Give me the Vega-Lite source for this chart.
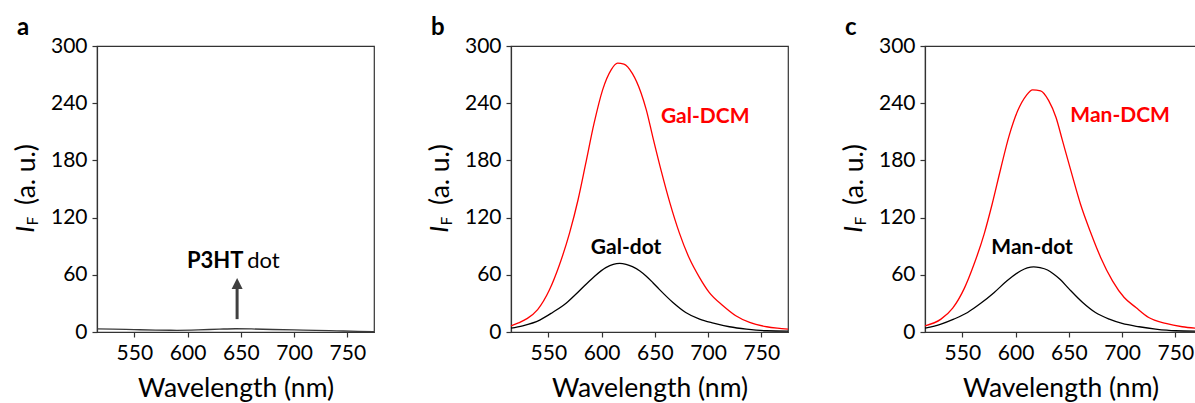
{
  "$schema": "https://vega.github.io/schema/vega-lite/v6.json",
  "bounds": "flush",
  "spacing": 137,
  "padding": {"left": 12, "top": 15, "right": 0, "bottom": 0},
  "background": "white",
  "datasets": {
    "spectra": [
      {"p":"a","s":"P3HT dot","wl":515,"v":3.2},{"p":"a","s":"P3HT dot","wl":530,"v":3.0},{"p":"a","s":"P3HT dot","wl":550,"v":2.5},{"p":"a","s":"P3HT dot","wl":570,"v":2.0},{"p":"a","s":"P3HT dot","wl":590,"v":1.8},{"p":"a","s":"P3HT dot","wl":610,"v":2.2},{"p":"a","s":"P3HT dot","wl":630,"v":3.0},{"p":"a","s":"P3HT dot","wl":645,"v":3.4},{"p":"a","s":"P3HT dot","wl":660,"v":3.2},{"p":"a","s":"P3HT dot","wl":680,"v":2.6},{"p":"a","s":"P3HT dot","wl":700,"v":2.2},{"p":"a","s":"P3HT dot","wl":720,"v":1.8},{"p":"a","s":"P3HT dot","wl":740,"v":1.2},{"p":"a","s":"P3HT dot","wl":760,"v":0.7},{"p":"a","s":"P3HT dot","wl":775,"v":0.4},

      {"p":"b","s":"Gal-DCM","wl":515,"v":6.5},{"p":"b","s":"Gal-DCM","wl":522,"v":9.5},{"p":"b","s":"Gal-DCM","wl":530,"v":14},{"p":"b","s":"Gal-DCM","wl":540,"v":23.5},{"p":"b","s":"Gal-DCM","wl":551,"v":44},{"p":"b","s":"Gal-DCM","wl":560,"v":69},{"p":"b","s":"Gal-DCM","wl":570,"v":104},{"p":"b","s":"Gal-DCM","wl":578,"v":139},{"p":"b","s":"Gal-DCM","wl":585,"v":176},{"p":"b","s":"Gal-DCM","wl":593,"v":219},{"p":"b","s":"Gal-DCM","wl":601,"v":254},{"p":"b","s":"Gal-DCM","wl":609,"v":275},{"p":"b","s":"Gal-DCM","wl":615,"v":282},{"p":"b","s":"Gal-DCM","wl":621,"v":281},{"p":"b","s":"Gal-DCM","wl":629,"v":271},{"p":"b","s":"Gal-DCM","wl":637,"v":251},{"p":"b","s":"Gal-DCM","wl":642,"v":233},{"p":"b","s":"Gal-DCM","wl":648,"v":205},{"p":"b","s":"Gal-DCM","wl":656,"v":169},{"p":"b","s":"Gal-DCM","wl":664,"v":136},{"p":"b","s":"Gal-DCM","wl":673,"v":104},{"p":"b","s":"Gal-DCM","wl":682.5,"v":77},{"p":"b","s":"Gal-DCM","wl":692,"v":57},{"p":"b","s":"Gal-DCM","wl":701,"v":41.5},{"p":"b","s":"Gal-DCM","wl":714,"v":27.5},{"p":"b","s":"Gal-DCM","wl":726,"v":17},{"p":"b","s":"Gal-DCM","wl":739,"v":10},{"p":"b","s":"Gal-DCM","wl":755,"v":5.5},{"p":"b","s":"Gal-DCM","wl":765,"v":4},{"p":"b","s":"Gal-DCM","wl":775,"v":3},

      {"p":"b","s":"Gal-dot","wl":515,"v":4},{"p":"b","s":"Gal-dot","wl":526,"v":6.5},{"p":"b","s":"Gal-dot","wl":542,"v":12.5},{"p":"b","s":"Gal-dot","wl":554,"v":20.5},{"p":"b","s":"Gal-dot","wl":567,"v":30.5},{"p":"b","s":"Gal-dot","wl":579,"v":43},{"p":"b","s":"Gal-dot","wl":592,"v":57},{"p":"b","s":"Gal-dot","wl":604,"v":67.5},{"p":"b","s":"Gal-dot","wl":611,"v":71},{"p":"b","s":"Gal-dot","wl":617,"v":72},{"p":"b","s":"Gal-dot","wl":623,"v":71},{"p":"b","s":"Gal-dot","wl":629,"v":68.5},{"p":"b","s":"Gal-dot","wl":636,"v":64},{"p":"b","s":"Gal-dot","wl":642,"v":58.5},{"p":"b","s":"Gal-dot","wl":648,"v":52},{"p":"b","s":"Gal-dot","wl":654,"v":45},{"p":"b","s":"Gal-dot","wl":667,"v":31},{"p":"b","s":"Gal-dot","wl":679,"v":20.5},{"p":"b","s":"Gal-dot","wl":692,"v":13.5},{"p":"b","s":"Gal-dot","wl":705,"v":9.3},{"p":"b","s":"Gal-dot","wl":720,"v":5.5},{"p":"b","s":"Gal-dot","wl":736,"v":3},{"p":"b","s":"Gal-dot","wl":755,"v":1.3},{"p":"b","s":"Gal-dot","wl":775,"v":1},

      {"p":"c","s":"Man-DCM","wl":515,"v":6.5},{"p":"c","s":"Man-DCM","wl":530,"v":13.5},{"p":"c","s":"Man-DCM","wl":541,"v":25},{"p":"c","s":"Man-DCM","wl":552,"v":46},{"p":"c","s":"Man-DCM","wl":561,"v":71},{"p":"c","s":"Man-DCM","wl":570.5,"v":102.7},{"p":"c","s":"Man-DCM","wl":578,"v":134},{"p":"c","s":"Man-DCM","wl":586,"v":171},{"p":"c","s":"Man-DCM","wl":594,"v":206},{"p":"c","s":"Man-DCM","wl":602,"v":232},{"p":"c","s":"Man-DCM","wl":610,"v":248},{"p":"c","s":"Man-DCM","wl":616,"v":254},{"p":"c","s":"Man-DCM","wl":623.5,"v":253},{"p":"c","s":"Man-DCM","wl":631,"v":243},{"p":"c","s":"Man-DCM","wl":638,"v":225},{"p":"c","s":"Man-DCM","wl":644,"v":201},{"p":"c","s":"Man-DCM","wl":652,"v":169},{"p":"c","s":"Man-DCM","wl":661,"v":134},{"p":"c","s":"Man-DCM","wl":670.5,"v":104.4},{"p":"c","s":"Man-DCM","wl":680,"v":78},{"p":"c","s":"Man-DCM","wl":691,"v":53.7},{"p":"c","s":"Man-DCM","wl":702,"v":36.2},{"p":"c","s":"Man-DCM","wl":713,"v":25.7},{"p":"c","s":"Man-DCM","wl":725,"v":15.2},{"p":"c","s":"Man-DCM","wl":741,"v":9},{"p":"c","s":"Man-DCM","wl":756.5,"v":5.5},{"p":"c","s":"Man-DCM","wl":769,"v":4},

      {"p":"c","s":"Man-dot","wl":515,"v":4},{"p":"c","s":"Man-dot","wl":530,"v":8.3},{"p":"c","s":"Man-dot","wl":542,"v":13.5},{"p":"c","s":"Man-dot","wl":555,"v":20.5},{"p":"c","s":"Man-dot","wl":567,"v":29.8},{"p":"c","s":"Man-dot","wl":580,"v":41.5},{"p":"c","s":"Man-dot","wl":592,"v":53.7},{"p":"c","s":"Man-dot","wl":605,"v":64.2},{"p":"c","s":"Man-dot","wl":611,"v":67.2},{"p":"c","s":"Man-dot","wl":617,"v":68.4},{"p":"c","s":"Man-dot","wl":623,"v":67.5},{"p":"c","s":"Man-dot","wl":630,"v":65},{"p":"c","s":"Man-dot","wl":636,"v":60.5},{"p":"c","s":"Man-dot","wl":642,"v":55},{"p":"c","s":"Man-dot","wl":650,"v":45.5},{"p":"c","s":"Man-dot","wl":663,"v":31},{"p":"c","s":"Man-dot","wl":675,"v":20.5},{"p":"c","s":"Man-dot","wl":688,"v":13.5},{"p":"c","s":"Man-dot","wl":700,"v":9},{"p":"c","s":"Man-dot","wl":716,"v":5.5},{"p":"c","s":"Man-dot","wl":731.5,"v":3},{"p":"c","s":"Man-dot","wl":750,"v":1.3},{"p":"c","s":"Man-dot","wl":769,"v":1}
    ],
    "labels": [
      {"p":"b","s":"Gal-DCM","label":"Gal-DCM","wl":697.3,"v":219.5},
      {"p":"b","s":"Gal-dot","label":"Gal-dot","wl":623,"v":81.7},
      {"p":"c","s":"Man-DCM","label":"Man-DCM","wl":698.2,"v":219.8},
      {"p":"c","s":"Man-dot","label":"Man-dot","wl":615.5,"v":81.7}
    ],
    "arrow": [
      {"p":"a","wl":646.5,"from":13.5,"to":46,"tip":56.6}
    ],
    "ytitle": [
      {"part":"I"}
    ],
    "ysub": [
      {"part":"F"}
    ]
  },
  "config": {
    "font": "Lato",
    "view": {"stroke": "#333333", "strokeWidth": 1.2},
    "axis": {
      "domainColor": "#333333", "domainWidth": 1.2,
      "tickColor": "#333333", "tickWidth": 1.2, "tickSize": 5,
      "labelColor": "#000000", "titleColor": "#000000",
      "labelFont": "Lato", "titleFont": "Lato",
      "labelFontSize": 21, "titleFontSize": 26.5, "titleFontWeight": "normal",
      "grid": false
    },
    "axisX": {"labelBaseline": "alphabetic", "labelPadding": 22, "titleBaseline": "alphabetic", "titleY": 64},
    "axisY": {"labelPadding": 5, "titleAngle": 270, "titleBaseline": "alphabetic", "titleX": -63, "titleY": 128, "titleAlign": "center"},
    "title": {"anchor": "start", "frame": "group", "fontSize": 24, "fontWeight": "bold", "font": "Lato", "dx": -80, "offset": -5, "baseline": "alphabetic", "color": "#000000"}
  },
  "hconcat": [
    {
      "width": 277, "height": 286,
      "title": {"text": "a"},
      "layer": [
        {
          "data": {"name": "spectra"},
          "transform": [{"filter": "datum.p === 'a'"}],
          "mark": {"type": "line", "interpolate": "monotone", "strokeWidth": 1.3, "color": "#3a3a3a"},
          "encoding": {
            "x": {"field": "wl", "type": "quantitative", "scale": {"domain": [515, 775], "nice": false, "zero": false}, "axis": {"values": [550, 600, 650, 700, 750], "title": "Wavelength (nm)"}},
            "y": {"field": "v", "type": "quantitative", "scale": {"domain": [0, 300], "nice": false}, "axis": {"values": [0, 60, 120, 180, 240, 300], "title": "(a. u.)"}}
          }
        },
        {
          "data": {"name": "arrow"},
          "mark": {"type": "rule", "strokeWidth": 3, "color": "#404040"},
          "encoding": {"x": {"field": "wl", "type": "quantitative"}, "y": {"field": "from", "type": "quantitative"}, "y2": {"field": "to"}}
        },
        {
          "data": {"name": "arrow"},
          "mark": {"type": "point", "shape": "M0,0L1,2L-1,2Z", "size": 121, "filled": true, "color": "#404040", "opacity": 1},
          "encoding": {"x": {"field": "wl", "type": "quantitative"}, "y": {"field": "tip", "type": "quantitative"}}
        },
        {
          "data": {"values": [{"t": "P3HT", "wl": 652.5, "v": 67}]},
          "mark": {"type": "text", "fontSize": 22, "fontWeight": "bold", "align": "right", "baseline": "alphabetic", "color": "#000000"},
          "encoding": {"x": {"field": "wl", "type": "quantitative"}, "y": {"field": "v", "type": "quantitative"}, "text": {"field": "t"}}
        },
        {
          "data": {"values": [{"t": "dot", "wl": 656, "v": 67}]},
          "mark": {"type": "text", "fontSize": 22, "fontWeight": "normal", "align": "left", "baseline": "alphabetic", "color": "#000000"},
          "encoding": {"x": {"field": "wl", "type": "quantitative"}, "y": {"field": "v", "type": "quantitative"}, "text": {"field": "t"}}
        },
        {
          "data": {"name": "ytitle"},
          "mark": {"type": "text", "fontSize": 26, "fontStyle": "italic", "angle": 270, "align": "left", "baseline": "alphabetic", "color": "#000000", "clip": false},
          "encoding": {"x": {"datum": 456.1}, "y": {"datum": 104.1}, "text": {"field": "part"}}
        },
        {
          "data": {"name": "ysub"},
          "mark": {"type": "text", "fontSize": 15, "angle": 270, "align": "left", "baseline": "alphabetic", "color": "#000000", "clip": false},
          "encoding": {"x": {"datum": 459.9}, "y": {"datum": 112}, "text": {"field": "part"}}
        }
      ]
    },
    {
      "width": 277, "height": 286,
      "title": {"text": "b"},
      "layer": [
        {
          "data": {"name": "spectra"},
          "transform": [{"filter": "datum.p === 'b'"}],
          "mark": {"type": "line", "interpolate": "monotone", "strokeWidth": 1.3},
          "encoding": {
            "x": {"field": "wl", "type": "quantitative", "scale": {"domain": [515, 775], "nice": false, "zero": false}, "axis": {"values": [550, 600, 650, 700, 750], "title": "Wavelength (nm)"}},
            "y": {"field": "v", "type": "quantitative", "scale": {"domain": [0, 300], "nice": false}, "axis": {"values": [0, 60, 120, 180, 240, 300], "title": "(a. u.)"}},
            "color": {"field": "s", "type": "nominal", "scale": {"domain": ["Gal-DCM", "Gal-dot"], "range": ["#ff0000", "#000000"]}, "legend": null}
          }
        },
        {
          "data": {"name": "labels"},
          "transform": [{"filter": "datum.p === 'b'"}],
          "mark": {"type": "text", "fontSize": 21, "fontWeight": "bold", "align": "center", "baseline": "alphabetic"},
          "encoding": {
            "x": {"field": "wl", "type": "quantitative"}, "y": {"field": "v", "type": "quantitative"}, "text": {"field": "label"},
            "color": {"field": "s", "type": "nominal", "scale": {"domain": ["Gal-DCM", "Gal-dot"], "range": ["#ff0000", "#000000"]}, "legend": null}
          }
        },
        {
          "data": {"name": "ytitle"},
          "mark": {"type": "text", "fontSize": 26, "fontStyle": "italic", "angle": 270, "align": "left", "baseline": "alphabetic", "color": "#000000", "clip": false},
          "encoding": {"x": {"datum": 456.1}, "y": {"datum": 104.1}, "text": {"field": "part"}}
        },
        {
          "data": {"name": "ysub"},
          "mark": {"type": "text", "fontSize": 15, "angle": 270, "align": "left", "baseline": "alphabetic", "color": "#000000", "clip": false},
          "encoding": {"x": {"datum": 459.9}, "y": {"datum": 112}, "text": {"field": "part"}}
        }
      ]
    },
    {
      "width": 271, "height": 286,
      "title": {"text": "c"},
      "layer": [
        {
          "data": {"name": "spectra"},
          "transform": [{"filter": "datum.p === 'c'"}],
          "mark": {"type": "line", "interpolate": "monotone", "strokeWidth": 1.3, "clip": true},
          "encoding": {
            "x": {"field": "wl", "type": "quantitative", "scale": {"domain": [515, 769.4], "nice": false, "zero": false}, "axis": {"values": [550, 600, 650, 700, 750], "title": "Wavelength (nm)"}},
            "y": {"field": "v", "type": "quantitative", "scale": {"domain": [0, 300], "nice": false}, "axis": {"values": [0, 60, 120, 180, 240, 300], "title": "(a. u.)"}},
            "color": {"field": "s", "type": "nominal", "scale": {"domain": ["Man-DCM", "Man-dot"], "range": ["#ff0000", "#000000"]}, "legend": null}
          }
        },
        {
          "data": {"name": "labels"},
          "transform": [{"filter": "datum.p === 'c'"}],
          "mark": {"type": "text", "fontSize": 21, "fontWeight": "bold", "align": "center", "baseline": "alphabetic"},
          "encoding": {
            "x": {"field": "wl", "type": "quantitative"}, "y": {"field": "v", "type": "quantitative"}, "text": {"field": "label"},
            "color": {"field": "s", "type": "nominal", "scale": {"domain": ["Man-DCM", "Man-dot"], "range": ["#ff0000", "#000000"]}, "legend": null}
          }
        },
        {
          "data": {"name": "ytitle"},
          "mark": {"type": "text", "fontSize": 26, "fontStyle": "italic", "angle": 270, "align": "left", "baseline": "alphabetic", "color": "#000000", "clip": false},
          "encoding": {"x": {"datum": 456.1}, "y": {"datum": 104.1}, "text": {"field": "part"}}
        },
        {
          "data": {"name": "ysub"},
          "mark": {"type": "text", "fontSize": 15, "angle": 270, "align": "left", "baseline": "alphabetic", "color": "#000000", "clip": false},
          "encoding": {"x": {"datum": 459.9}, "y": {"datum": 112}, "text": {"field": "part"}}
        }
      ]
    }
  ]
}
